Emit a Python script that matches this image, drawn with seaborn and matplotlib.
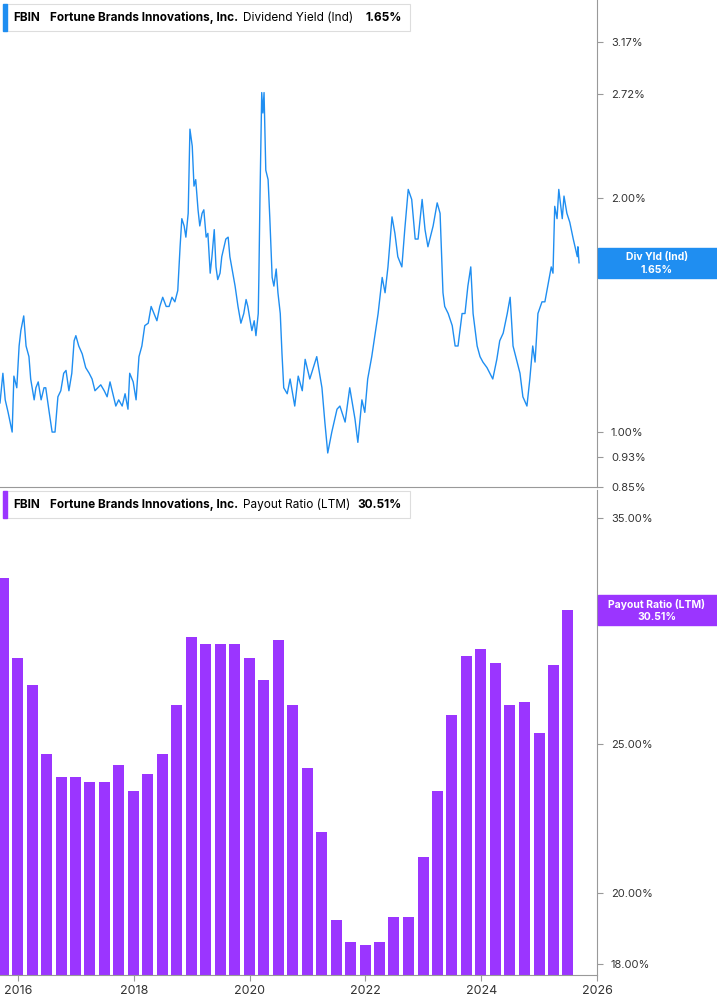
import matplotlib
matplotlib.use("Agg")
import matplotlib.pyplot as plt
import matplotlib.patches as mpatches
from matplotlib.ticker import FixedLocator, NullLocator
import seaborn as sns
import pandas as pd
import numpy as np

plt.rcParams["font.family"] = "Inter"

# dividend yield (%), sampled from the chart
yield_years = [
    2015.69, 2015.74, 2015.78, 2015.83, 2015.90, 2015.93, 2015.98, 2016.02, 2016.05, 2016.10,
    2016.14, 2016.19, 2016.22, 2016.28, 2016.31, 2016.35, 2016.40, 2016.45, 2016.48, 2016.54,
    2016.59, 2016.64, 2016.69, 2016.74, 2016.79, 2016.83, 2016.88, 2016.93, 2016.97, 2017.00,
    2017.05, 2017.11, 2017.17, 2017.23, 2017.28, 2017.33, 2017.38, 2017.43, 2017.49, 2017.54,
    2017.59, 2017.64, 2017.69, 2017.74, 2017.80, 2017.85, 2017.90, 2017.93, 2017.99, 2018.04,
    2018.09, 2018.14, 2018.19, 2018.25, 2018.30, 2018.35, 2018.40, 2018.45, 2018.50, 2018.56,
    2018.61, 2018.66, 2018.71, 2018.76, 2018.80, 2018.83, 2018.87, 2018.90, 2018.94, 2018.97,
    2019.01, 2019.04, 2019.07, 2019.11, 2019.14, 2019.18, 2019.21, 2019.25, 2019.28, 2019.32,
    2019.35, 2019.39, 2019.42, 2019.45, 2019.49, 2019.52, 2019.56, 2019.59, 2019.63, 2019.66,
    2019.71, 2019.75, 2019.80, 2019.85, 2019.90, 2019.94, 2019.97, 2020.01, 2020.04, 2020.08,
    2020.11, 2020.15, 2020.16, 2020.18, 2020.21, 2020.23, 2020.25, 2020.28, 2020.32, 2020.35,
    2020.39, 2020.42, 2020.46, 2020.49, 2020.53, 2020.56, 2020.59, 2020.65, 2020.70, 2020.78,
    2020.84, 2020.91, 2020.96, 2021.04, 2021.16, 2021.25, 2021.30, 2021.35, 2021.42, 2021.51,
    2021.56, 2021.65, 2021.73, 2021.82, 2021.87, 2021.94, 2021.99, 2022.04, 2022.11, 2022.17,
    2022.22, 2022.29, 2022.34, 2022.39, 2022.46, 2022.51, 2022.56, 2022.63, 2022.68, 2022.74,
    2022.80, 2022.86, 2022.91, 2022.98, 2023.03, 2023.08, 2023.17, 2023.24, 2023.29, 2023.34,
    2023.37, 2023.43, 2023.50, 2023.55, 2023.60, 2023.67, 2023.72, 2023.77, 2023.82, 2023.86,
    2023.93, 2023.98, 2024.03, 2024.10, 2024.15, 2024.20, 2024.27, 2024.32, 2024.38, 2024.45,
    2024.50, 2024.55, 2024.62, 2024.67, 2024.72, 2024.79, 2024.84, 2024.89, 2024.93, 2024.98,
    2025.05, 2025.10, 2025.15, 2025.21, 2025.24, 2025.27, 2025.31, 2025.34, 2025.40, 2025.43,
    2025.48, 2025.53, 2025.59, 2025.62, 2025.66, 2025.67, 2025.69,
]
yield_values = [
    1.09, 1.19, 1.10, 1.06, 1.00, 1.18, 1.14, 1.29, 1.35, 1.41,
    1.29, 1.25, 1.17, 1.10, 1.14, 1.16, 1.10, 1.14, 1.14, 1.06,
    1.00, 1.00, 1.11, 1.13, 1.19, 1.20, 1.13, 1.19, 1.31, 1.33,
    1.29, 1.26, 1.21, 1.19, 1.17, 1.13, 1.14, 1.15, 1.13, 1.11,
    1.16, 1.12, 1.08, 1.10, 1.08, 1.12, 1.07, 1.19, 1.16, 1.10,
    1.25, 1.29, 1.37, 1.38, 1.45, 1.42, 1.39, 1.45, 1.49, 1.45,
    1.45, 1.49, 1.47, 1.52, 1.73, 1.88, 1.84, 1.78, 1.91, 2.45,
    2.33, 2.07, 2.11, 1.93, 1.84, 1.91, 1.93, 1.78, 1.80, 1.60,
    1.68, 1.82, 1.63, 1.57, 1.60, 1.68, 1.73, 1.77, 1.78, 1.68,
    1.60, 1.54, 1.45, 1.38, 1.42, 1.48, 1.45, 1.39, 1.35, 1.39,
    1.33, 1.42, 1.57, 2.01, 2.73, 2.57, 2.73, 2.17, 2.11, 1.88,
    1.58, 1.54, 1.62, 1.51, 1.42, 1.26, 1.14, 1.12, 1.17, 1.08,
    1.18, 1.13, 1.24, 1.17, 1.25, 1.14, 1.03, 0.94, 1.00, 1.07,
    1.08, 1.03, 1.14, 1.04, 0.97, 1.10, 1.06, 1.17, 1.25, 1.34,
    1.42, 1.58, 1.51, 1.63, 1.89, 1.80, 1.68, 1.63, 1.82, 2.05,
    1.99, 1.77, 1.77, 1.99, 1.82, 1.73, 1.84, 1.97, 1.91, 1.51,
    1.45, 1.42, 1.37, 1.29, 1.29, 1.42, 1.42, 1.54, 1.63, 1.42,
    1.29, 1.25, 1.23, 1.21, 1.19, 1.17, 1.24, 1.31, 1.34, 1.42,
    1.49, 1.29, 1.23, 1.19, 1.11, 1.08, 1.17, 1.29, 1.23, 1.42,
    1.47, 1.47, 1.54, 1.63, 1.60, 1.95, 1.88, 2.05, 1.88, 2.01,
    1.91, 1.86, 1.77, 1.73, 1.68, 1.73, 1.65,
]

# payout ratio (LTM, %) by quarter end
quarters = [
    "2015-09-30", "2015-12-31", "2016-03-31", "2016-06-30", "2016-09-30", "2016-12-31",
    "2017-03-31", "2017-06-30", "2017-09-30", "2017-12-31", "2018-03-31", "2018-06-30",
    "2018-09-30", "2018-12-31", "2019-03-31", "2019-06-30", "2019-09-30", "2019-12-31",
    "2020-03-31", "2020-06-30", "2020-09-30", "2020-12-31", "2021-03-31", "2021-06-30",
    "2021-09-30", "2021-12-31", "2022-03-31", "2022-06-30", "2022-09-30", "2022-12-31",
    "2023-03-31", "2023-06-30", "2023-09-30", "2023-12-31", "2024-03-31", "2024-06-30",
    "2024-09-30", "2024-12-31", "2025-03-31", "2025-06-30",
]
payout = [
    32.0, 28.4, 27.3, 24.6, 23.8, 23.8, 23.6, 23.6, 24.2, 23.3,
    23.9, 24.6, 26.5, 29.3, 29.0, 29.0, 29.0, 28.4, 27.5, 29.2,
    26.5, 24.1, 21.9, 19.2, 18.6, 18.5, 18.6, 19.3, 19.3, 21.1,
    23.3, 26.1, 28.5, 28.8, 28.2, 26.5, 26.6, 25.4, 28.1, 30.51,
]

yield_ticks = [0.85, 0.93, 1.00, 2.00, 2.72, 3.17]
payout_ticks = [18, 20, 25, 30, 35]
year_ticks = [2016, 2018, 2020, 2022, 2024, 2026]

BLUE = "#1f8ef1"
PURPLE = "#9b35ff"
GRAY = "#999999"

qd = pd.to_datetime(quarters)
q_years = (qd.year + (qd.dayofyear - 1) / 365.25).to_numpy()
df_y = pd.DataFrame({"year": yield_years, "value": yield_values})
df_p = pd.DataFrame({"year": q_years, "value": payout})

W, H = 717, 1005
fig = plt.figure(figsize=(W / 100, H / 100), dpi=100)
x0, x1 = 2015.69, 2026.0

ax1 = fig.add_axes([0, 1 - 487 / H, 597 / W, 487 / H])
ax2 = fig.add_axes([0, 1 - 975 / H, 597 / W, 485 / H])

sns.lineplot(data=df_y, x="year", y="value", ax=ax1, color=BLUE, linewidth=1.0)
ax1.set_yscale("log")
ax1.set_ylim(0.85, 3.59)

ax2.bar(df_p["year"], df_p["value"], width=0.19, color=PURPLE)
ax2.set_yscale("log")
ax2.set_ylim(17.7, 36.5)

for ax, ticks in ((ax1, yield_ticks), (ax2, payout_ticks)):
    ax.set_xlim(x0, x1)
    ax.yaxis.tick_right()
    ax.yaxis.set_major_locator(FixedLocator(ticks))
    ax.yaxis.set_minor_locator(NullLocator())
    ax.set_yticklabels([f"{t:.2f}%" for t in ticks], fontsize=8, color="#333333")
    ax.tick_params(axis="y", length=4, color=GRAY, pad=6)
    ax.set_xlabel("")
    ax.set_ylabel("")
    for s in ("top", "left"):
        ax.spines[s].set_visible(False)
    ax.spines["right"].set_color(GRAY)
    ax.spines["bottom"].set_color(GRAY)

ax1.set_xticks([])
ax2.set_xticks(year_ticks)
ax2.set_xticklabels([str(y) for y in year_ticks], fontsize=9, color="#333333")
ax2.tick_params(axis="x", length=4, color=GRAY)


def header(ytop, color, label, value, right):
    # legend box in the top-left corner of a panel
    fig.patches.append(mpatches.Rectangle((3 / W, 1 - (ytop + 28) / H), (right - 3) / W, 27 / H,
                                          transform=fig.transFigure, facecolor="white",
                                          edgecolor="#dddddd", linewidth=0.8))
    fig.patches.append(mpatches.Rectangle((3 / W, 1 - (ytop + 28) / H), 4 / W, 27 / H,
                                          transform=fig.transFigure, color=color))
    yy = 1 - (ytop + 15) / H
    fig.text(13 / W, yy, "FBIN", fontsize=8.5, fontweight="bold", va="center")
    fig.text(50 / W, yy, "Fortune Brands Innovations, Inc.", fontsize=8.5, fontweight="bold", va="center")
    fig.text(243 / W, yy, label, fontsize=8.5, va="center")
    fig.text((right - 8) / W, yy, value, fontsize=8.5, fontweight="bold", va="center", ha="right")


def flag(ycenter, color, line1, line2):
    fig.patches.append(mpatches.Rectangle((598 / W, 1 - (ycenter + 15) / H), 119 / W, 30 / H,
                                          transform=fig.transFigure, color=color))
    fig.text(657 / W, 1 - (ycenter - 6) / H, line1, fontsize=7.5, fontweight="bold",
             color="white", ha="center", va="center")
    fig.text(657 / W, 1 - (ycenter + 7) / H, line2, fontsize=7.5, fontweight="bold",
             color="white", ha="center", va="center")


header(3, BLUE, "Dividend Yield (Ind)", "1.65%", 410)
header(490, PURPLE, "Payout Ratio (LTM)", "30.51%", 410)
flag(263, BLUE, "Div Yld (Ind)", "1.65%")
flag(610, PURPLE, "Payout Ratio (LTM)", "30.51%")

fig.savefig("out.png", dpi=100)
